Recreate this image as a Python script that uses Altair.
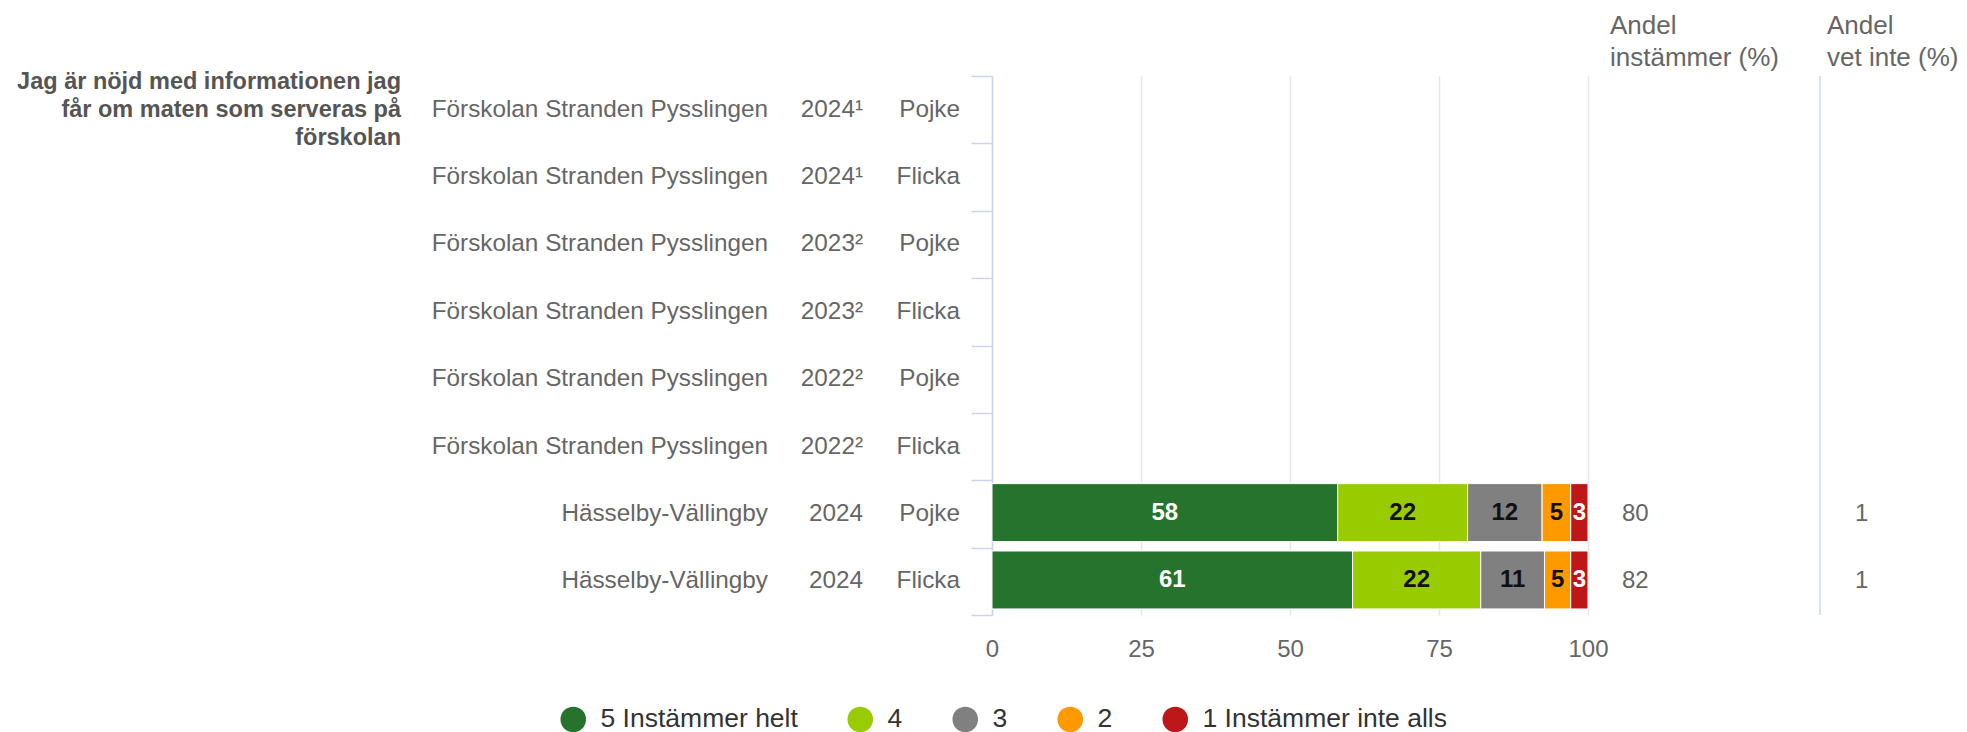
import altair as alt
import pandas as pd

# ---------------- data ----------------
schools = ["Förskolan Stranden Pysslingen"] * 6 + ["Hässelby-Vällingby"] * 2
years = ["2024¹", "2024¹", "2023²", "2023²", "2022²", "2022²", "2024", "2024"]
genders = ["Pojke", "Flicka", "Pojke", "Flicka", "Pojke", "Flicka", "Pojke", "Flicka"]
question = ["Jag är nöjd med informationen jag", "får om maten som serveras på", "förskolan"]

response_cats = ["5 Instämmer helt", "4", "3", "2", "1 Instämmer inte alls"]
response_colors = ["#26732e", "#99cc00", "#808080", "#ff9900", "#be1719"]

bar_rows = [6, 7]  # rows (0 = top) that have answers
pojke_share = [58.0, 21.8, 12.5, 4.8, 2.9]
flicka_share = [60.5, 21.5, 10.7, 4.4, 2.9]
pojke_label = [58, 22, 12, 5, 3]
flicka_label = [61, 22, 11, 5, 3]

andel_instammer = [80, 82]
andel_vet_inte = [1, 1]
header_instammer = ["Andel", "instämmer (%)"]
header_vet_inte = ["Andel", "vet inte (%)"]
x_ticks = [0, 25, 50, 75, 100]

# ---------------- tables ----------------
n_rows = len(schools)
rows_df = pd.DataFrame({"row": list(range(n_rows)), "school": schools, "year": years, "gender": genders})

recs = []
for r, shares, labels in zip(bar_rows, [pojke_share, flicka_share], [pojke_label, flicka_label]):
    for i, (c, s, l) in enumerate(zip(response_cats, shares, labels)):
        recs.append({"row": r, "cat": c, "cat_order": i, "share": s, "label": str(l)})
bars_df = pd.DataFrame(recs)

cols_df = pd.DataFrame({"row": bar_rows, "inst": [str(v) for v in andel_instammer],
                        "vet": [str(v) for v in andel_vet_inte]})
q_df = pd.DataFrame({"row": [0], "q": ["\n".join(question)]})
hdr_df = pd.DataFrame({"h1": ["\n".join(header_instammer)], "h2": ["\n".join(header_vet_inte)]})

W, H = 596, 539
FONT = "Liberation Sans"
Q_LINE = 28

y_scale = alt.Scale(domain=[0, n_rows], reverse=True, nice=False, zero=False)
y_axis = alt.Axis(values=list(range(n_rows + 1)), labels=False, grid=False, ticks=True,
                  tickSize=21, tickColor="#ccd6eb", tickWidth=1.5,
                  domainColor="#ccd6eb", domainWidth=1.5, title=None)
x_scale = alt.Scale(domain=[0, 100], nice=False)
x_axis = alt.Axis(values=x_ticks, grid=True, gridColor="#e6e6e6", gridWidth=1.5,
                  domain=False, ticks=False, tickSize=0, labelFontSize=24,
                  labelColor="#666666", labelPadding=22, labelFont=FONT,
                  labelFlush=False, title=None)

bars_base = alt.Chart(bars_df).transform_window(
    x_end="sum(share)", groupby=["row"], sort=[alt.SortField("cat_order")], frame=[None, 0]
).transform_calculate(
    x_start="datum.x_end - datum.share",
    x_mid="(datum.x_end + datum.x_end - datum.share) / 2",
    y_top="datum.row + 0.05",
    y_bot="datum.row + 0.91",
    y_mid="datum.row + 0.48",
)

bars = bars_base.mark_bar(stroke="white", strokeWidth=1).encode(
    x=alt.X("x_start:Q", scale=x_scale, axis=x_axis, title=None),
    x2="x_end:Q",
    y=alt.Y("y_top:Q", scale=y_scale, axis=y_axis, title=None),
    y2="y_bot:Q",
    color=alt.Color("cat:N", scale=alt.Scale(domain=response_cats, range=response_colors),
                    legend=alt.Legend(orient="none", legendX=-432, legendY=630,
                                      direction="horizontal", title=None,
                                      symbolType="circle", symbolSize=650,
                                      symbolStrokeWidth=0, symbolOpacity=1,
                                      labelFontSize=26.5, labelColor="#333333",
                                      labelFont=FONT, labelOffset=14,
                                      columnPadding=49, labelLimit=500, padding=0)),
)

bar_text = bars_base.mark_text(fontWeight="bold", fontSize=24, baseline="middle",
                               align="center", font=FONT).encode(
    x=alt.X("x_mid:Q", scale=x_scale, axis=x_axis, title=None),
    y=alt.Y("y_mid:Q", scale=y_scale, axis=y_axis, title=None),
    text="label:N",
    color=alt.condition(alt.FieldOneOfPredicate(field="cat", oneOf=[response_cats[0], response_cats[4]]),
                        alt.value("#ffffff"), alt.value("#111111")),
)

rows_base = alt.Chart(rows_df).transform_calculate(y_mid="datum.row + 0.5")


def row_col(field, xpos):
    return rows_base.mark_text(fontSize=24.3, color="#666666", align="right",
                               baseline="middle", font=FONT).encode(
        x=alt.value(xpos),
        y=alt.Y("y_mid:Q", scale=y_scale, axis=y_axis, title=None),
        text=f"{field}:N",
    )


school_col = row_col("school", -224)
year_col = row_col("year", -129)
gender_col = row_col("gender", -32)

q_text = alt.Chart(q_df).transform_calculate(y_mid="datum.row + 0.5").mark_text(
    fontSize=23.5, fontWeight="bold", color="#555555", align="right", baseline="middle",
    lineBreak="\n", lineHeight=Q_LINE, dy=-Q_LINE, font=FONT).encode(
    x=alt.value(-591),
    y=alt.Y("y_mid:Q", scale=y_scale, axis=y_axis, title=None),
    text="q:N",
)

cols_base = alt.Chart(cols_df).transform_calculate(y_mid="datum.row + 0.5")
inst_col = cols_base.mark_text(fontSize=24, color="#666666", align="left",
                               baseline="middle", font=FONT).encode(
    x=alt.value(630), y=alt.Y("y_mid:Q", scale=y_scale, axis=y_axis, title=None), text="inst:N")
vet_col = cols_base.mark_text(fontSize=24, color="#666666", align="left",
                              baseline="middle", font=FONT).encode(
    x=alt.value(863), y=alt.Y("y_mid:Q", scale=y_scale, axis=y_axis, title=None), text="vet:N")

hdr1 = alt.Chart(hdr_df).mark_text(fontSize=26, color="#666666", align="left",
                                   baseline="alphabetic", lineBreak="\n", lineHeight=32,
                                   font=FONT).encode(
    x=alt.value(618), y=alt.value(-42), text="h1:N")
hdr2 = alt.Chart(hdr_df).mark_text(fontSize=26, color="#666666", align="left",
                                   baseline="alphabetic", lineBreak="\n", lineHeight=32,
                                   font=FONT).encode(
    x=alt.value(835), y=alt.value(-42), text="h2:N")

sep = alt.Chart(hdr_df).mark_rule(color="#ccd6eb", strokeWidth=1.5).encode(
    x=alt.value(828), y=alt.value(0), y2=alt.value(H))

chart = alt.layer(
    bars, bar_text, school_col, year_col, gender_col, q_text, inst_col, vet_col, hdr1, hdr2, sep
).properties(
    width=W, height=H,
    autosize=alt.AutoSizeParams(type="none"),
    padding={"left": 984, "top": 68, "right": 371, "bottom": 125},
).configure(font=FONT).configure_view(stroke=None)

chart.save("out.html", embed_options={"renderer": "svg", "actions": False})
